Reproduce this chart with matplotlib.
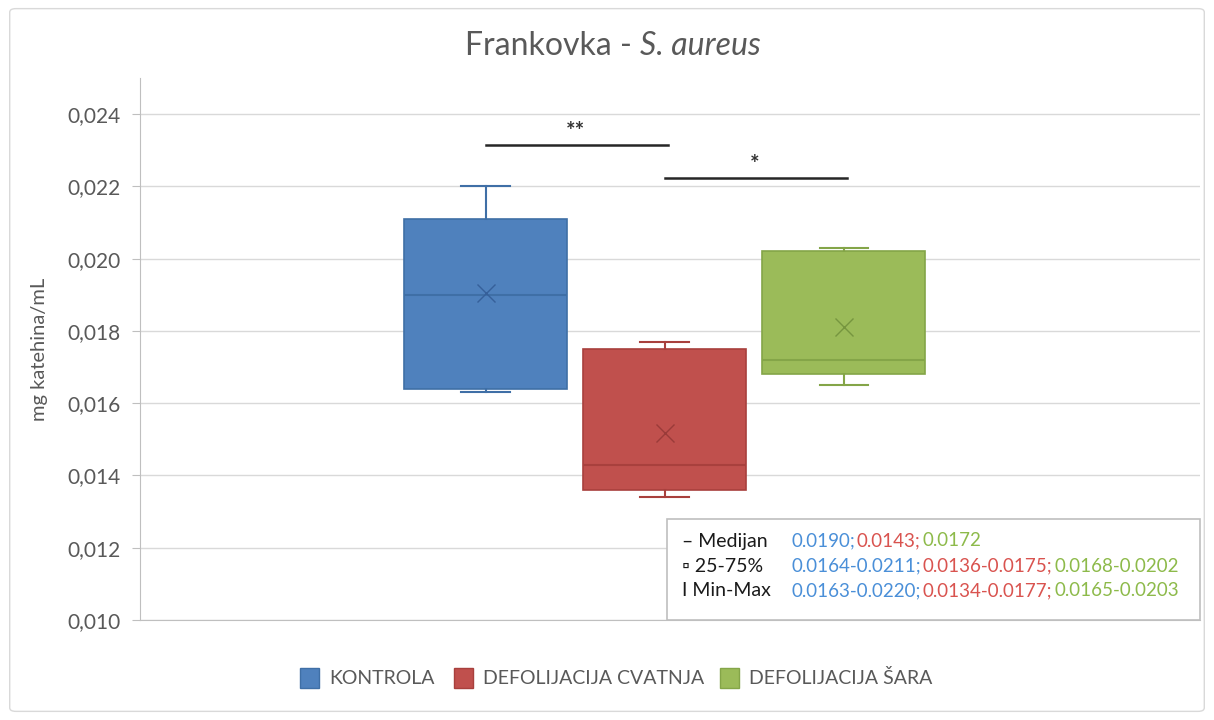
import matplotlib
matplotlib.use("Agg")
import matplotlib.pyplot as plt
from matplotlib.patches import FancyBboxPatch, Rectangle

plt.rcParams['font.family'] = ['Lato', 'DejaVu Sans']

# ---- data ----
groups = ["KONTROLA", "DEFOLIJACIJA CVATNJA", "DEFOLIJACIJA ŠARA"]
mins = [0.0163, 0.0134, 0.0165]
q1s = [0.0164, 0.0136, 0.0168]
medians = [0.0190, 0.0143, 0.0172]
q3s = [0.0211, 0.0175, 0.0202]
maxs = [0.0220, 0.0177, 0.0203]
means = [0.01905, 0.01518, 0.01811]
yticks = [0.010, 0.012, 0.014, 0.016, 0.018, 0.020, 0.022, 0.024]
sig_pairs = [(0, 1, 0.02314, "**"), (1, 2, 0.02223, "*")]
legend_rows = [
    ("– Medijan", ["0.0190;", "0.0143;", "0.0172"]),
    ("▫ 25-75%", ["0.0164-0.0211;", "0.0136-0.0175;", "0.0168-0.0202"]),
    ("I Min-Max", ["0.0163-0.0220;", "0.0134-0.0177;", "0.0165-0.0203"]),
]

fills = ["#4f81bd", "#c0504d", "#9bbb59"]
edges = ["#3f6fa6", "#a8403d", "#84a548"]
marks = ["#36609a", "#9a3b39", "#76953f"]
text_cols = ["#4a8fd8", "#d9534f", "#8dba4a"]

fig = plt.figure(figsize=(12.14, 7.2), dpi=100)
fig.patch.set_facecolor("white")
# outer border
fig.add_artist(FancyBboxPatch((0.008, 0.012), 0.984, 0.976, boxstyle="round,pad=0,rounding_size=0.005",
                              transform=fig.transFigure, fill=False, ec="#d9d9d9", lw=1.0))

ax = fig.add_axes([0.1153, 0.1389, 0.8732, 0.7528])
positions = [-1, 0, 1]
stats = []
for i in range(3):
    stats.append(dict(med=medians[i], q1=q1s[i], q3=q3s[i], whislo=mins[i], whishi=maxs[i],
                      mean=means[i], fliers=[], label=groups[i]))
for i in range(3):
    ax.bxp([stats[i]], positions=[positions[i]], widths=0.91, patch_artist=True, showmeans=True,
           boxprops=dict(facecolor=fills[i], edgecolor=edges[i], lw=1.2),
           medianprops=dict(color=edges[i], lw=1.5),
           whiskerprops=dict(color=edges[i], lw=1.5),
           capprops=dict(color=edges[i], lw=1.5), capwidths=0.27,
           meanprops=dict(marker="x", markeredgecolor=marks[i], markersize=13, markeredgewidth=1.0),
           zorder=3)

ax.set_xlim(-2.93, 2.99)
ax.set_ylim(0.010, 0.025)
ax.set_yticks(yticks)
ax.set_yticklabels([f"{v:.3f}".replace(".", ",") for v in yticks], fontsize=15, color="#595959")
ax.set_xticks([])
ax.tick_params(axis="y", length=6, color="#bfbfbf", pad=8)
ax.grid(axis="y", color="#d9d9d9", lw=1.0, zorder=0)
ax.set_axisbelow(True)
for s in ["top", "right"]:
    ax.spines[s].set_visible(False)
ax.spines["left"].set_color("#bfbfbf")
ax.spines["bottom"].set_color("#bfbfbf")
ax.set_ylabel("mg katehina/mL", fontsize=14.5, color="#595959", labelpad=14)

for a, b, yv, lab in sig_pairs:
    ax.plot([positions[a], positions[b] + 0.02], [yv, yv], color="#262626", lw=1.8, zorder=4)
    ax.text((positions[a] + positions[b]) / 2, yv + 0.00008, lab, ha="center", va="bottom",
            fontsize=16, color="#333333", fontweight="bold")

fig.text(0.527, 0.936, "Frankovka - ", ha="right", va="center", fontsize=23, color="#595959")
fig.text(0.527, 0.936, "S. aureus", ha="left", va="center", fontsize=23, color="#595959", style="italic")

# stats legend box
fig.add_artist(Rectangle((667 / 1214, 1 - 620 / 720), (1200 - 667) / 1214, (620 - 519) / 720,
                         transform=fig.transFigure, facecolor="white", edgecolor="#bfbfbf", lw=1.2, zorder=5))
fig.canvas.draw()
renderer = fig.canvas.get_renderer()
row_y = [541, 566, 591]
for (lab, parts), py in zip(legend_rows, row_y):
    yf = 1 - py / 720
    fig.text(682 / 1214, yf, lab, ha="left", va="center", fontsize=14, color="#1a1a1a", zorder=6)
    x = 791 / 1214
    for j, p in enumerate(parts):
        t = fig.text(x, yf, p, ha="left", va="center", fontsize=13.5, color=text_cols[j], zorder=6)
        bb = t.get_window_extent(renderer)
        x = (bb.x1 + 2) / fig.bbox.width

# bottom legend
leg_x = [300, 454, 720]
for i in range(3):
    fig.add_artist(Rectangle((leg_x[i] / 1214, 1 - 688 / 720), 19 / 1214, 20 / 720, transform=fig.transFigure,
                             facecolor=fills[i], edgecolor=edges[i], lw=1))
    fig.text((leg_x[i] + 29) / 1214, 1 - 678 / 720, groups[i], ha="left", va="center", fontsize=14,
             color="#595959")

fig.savefig("out.png", dpi=100)
